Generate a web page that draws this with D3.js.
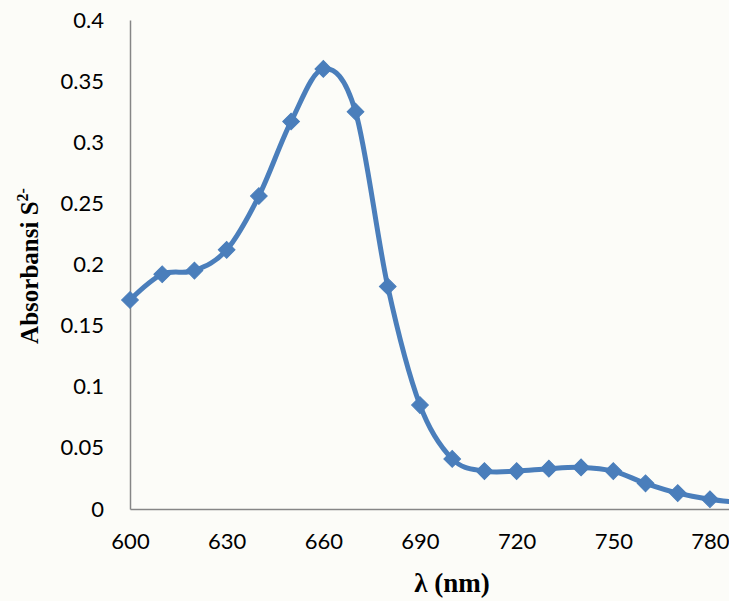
<!DOCTYPE html>
<html>
<head>
<meta charset="utf-8">
<script src="https://cdn.jsdelivr.net/npm/d3@7"></script>
<style>
  html, body { margin: 0; padding: 0; background: #fcfcf8; overflow: hidden; }
  svg { display: block; }
</style>
</head>
<body>
<svg id="chart" width="729" height="601"></svg>
<script>
// Absorption spectrum of S2- between 600 and 790 nm
const wavelengths = [600, 610, 620, 630, 640, 650, 660, 670, 680, 690, 700, 710, 720, 730, 740, 750, 760, 770, 780, 790];
const absorbance  = [0.171, 0.192, 0.195, 0.212, 0.256, 0.317, 0.360, 0.325, 0.182, 0.085, 0.041, 0.031, 0.031, 0.033, 0.034, 0.031, 0.021, 0.013, 0.008, 0.005];
const xTicks = [600, 630, 660, 690, 720, 750, 780];
const yTicks = [0, 0.05, 0.1, 0.15, 0.2, 0.25, 0.3, 0.35, 0.4];

const svg = d3.select("#chart");
const plotLeft = 130, plotTop = 20, plotBottom = 509;

const x = d3.scaleLinear().domain([600, 810]).range([plotLeft, plotLeft + 210 * 3.222]);
const y = d3.scaleLinear().domain([0, 0.4]).range([plotBottom, plotTop]);

const axisColor = "#868686";
const blue = "#4a7ebb";
const tickFont = "Lato, 'Open Sans', sans-serif";
const titleFont = "'Liberation Serif', 'Times New Roman', serif";

// y axis
const yAxis = svg.append("g").attr("transform", `translate(${plotLeft},0)`)
  .call(d3.axisLeft(y).tickValues(yTicks).tickSize(0).tickPadding(26)
    .tickFormat(d => d === 0 ? "0" : String(+d.toFixed(2))));
yAxis.select(".domain").attr("stroke", axisColor).attr("stroke-width", 1.5);
yAxis.selectAll("text").attr("font-family", tickFont).attr("font-size", 22).attr("fill", "#000");

// x axis
const xAxis = svg.append("g").attr("transform", `translate(0,${plotBottom})`)
  .call(d3.axisBottom(x).tickValues(xTicks).tickSize(0).tickPadding(24).tickFormat(d3.format("d")));
xAxis.select(".domain").attr("stroke", axisColor).attr("stroke-width", 1.5);
xAxis.selectAll("text").attr("font-family", tickFont).attr("font-size", 22).attr("fill", "#000");

// axis titles
svg.append("text")
  .attr("transform", `translate(38,266) rotate(-90)`)
  .attr("text-anchor", "middle")
  .attr("font-family", titleFont)
  .attr("font-weight", "bold").attr("font-size", 25)
  .text("Absorbansi S")
  .append("tspan").attr("dy", -10).attr("font-size", 16).text("2-");

svg.append("text")
  .attr("x", 452).attr("y", 592)
  .attr("text-anchor", "middle")
  .attr("font-family", titleFont)
  .attr("font-weight", "bold").attr("font-size", 27)
  .text("λ (nm)");

// series
const pts = wavelengths.map((w, i) => [w, absorbance[i]]);
const line = d3.line().x(d => x(d[0])).y(d => y(d[1])).curve(d3.curveCardinal.tension(0));

svg.append("path").datum(pts)
  .attr("d", line)
  .attr("fill", "none")
  .attr("stroke", blue)
  .attr("stroke-width", 5)
  .attr("stroke-linejoin", "round");

// diamond markers: squares turned by 45 degrees
const marker = d3.symbol().type(d3.symbolSquare).size(140);
svg.append("g").selectAll("path").data(pts).join("path")
  .attr("transform", d => `translate(${x(d[0])},${y(d[1])}) rotate(45)`)
  .attr("d", marker)
  .attr("fill", blue)
  .attr("stroke", blue)
  .attr("stroke-width", 1);
</script>
</body>
</html>
